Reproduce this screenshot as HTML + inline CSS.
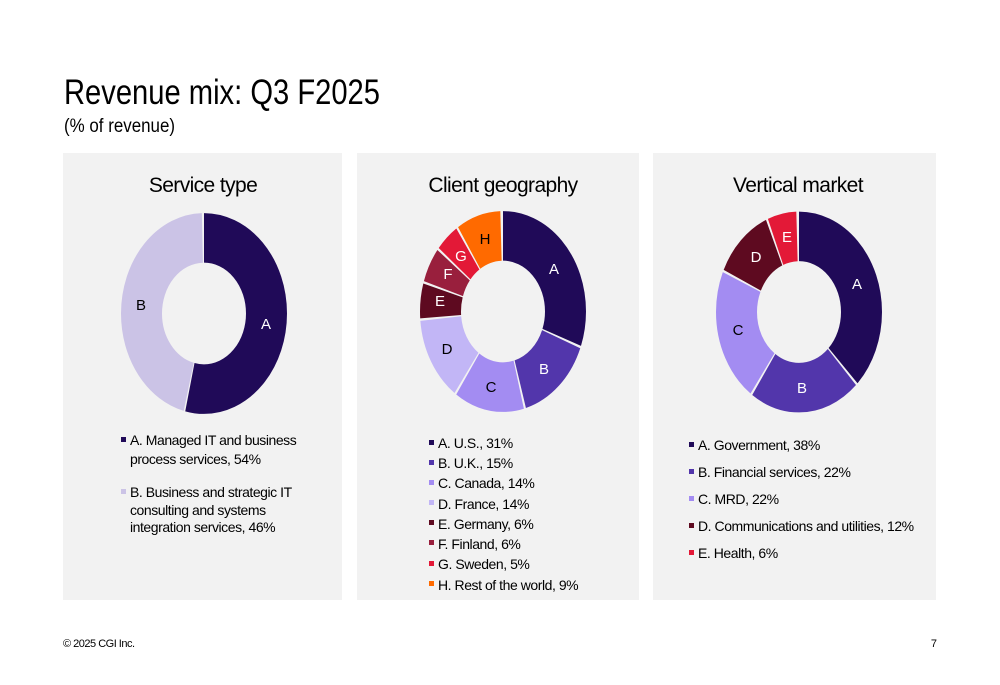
<!DOCTYPE html>
<html><head><meta charset="utf-8"><style>
html,body{margin:0;padding:0;background:#fff}
svg{display:block}
text{font-family:"Liberation Sans",Arial,sans-serif;fill:#000}
.l{font-size:14px;letter-spacing:-0.45px}
.pt{font-size:21px;text-anchor:middle;letter-spacing:-0.6px}
.w{fill:#fff}
</style></head><body>
<svg width="1000" height="685" viewBox="0 0 1000 685">
<rect width="1000" height="685" fill="#fff"/>
<text x="64" y="104" font-size="35" textLength="316" lengthAdjust="spacingAndGlyphs">Revenue mix: Q3 F2025</text>
<text x="64" y="132" font-size="19" textLength="111" lengthAdjust="spacingAndGlyphs">(% of revenue)</text>

<rect x="63" y="153" width="279" height="447" fill="#f2f2f2"/>
<rect x="357" y="153" width="282" height="447" fill="#f2f2f2"/>
<rect x="653" y="153" width="283" height="447" fill="#f2f2f2"/>

<text class="pt" x="203" y="192">Service type</text>
<text class="pt" x="503" y="192">Client geography</text>
<text class="pt" x="798" y="192">Vertical market</text>

<g transform="translate(204,313.5) scale(1,1.21) rotate(-90)" fill="none" stroke-width="41">
<circle r="62.5" pathLength="100" stroke="#200A58" stroke-dasharray="53.7 100" stroke-dashoffset="0"/>
<circle r="62.5" pathLength="100" stroke="#CBC3E6" stroke-dasharray="45.7 100" stroke-dashoffset="-54"/>
</g>
<text x="266" y="329" font-size="15" text-anchor="middle" class="w">A</text>
<text x="141" y="310" font-size="15" text-anchor="middle">B</text>

<g transform="translate(503,311.5) scale(1,1.21) rotate(-90)" fill="none" stroke-width="41">
<circle r="62.5" pathLength="100" stroke="#200A58" stroke-dasharray="30.6 100" stroke-dashoffset="0"/>
<circle r="62.5" pathLength="100" stroke="#5236AB" stroke-dasharray="14.6 100" stroke-dashoffset="-31"/>
<circle r="62.5" pathLength="100" stroke="#A38CF2" stroke-dasharray="13.6 100" stroke-dashoffset="-46"/>
<circle r="62.5" pathLength="100" stroke="#C2B6F6" stroke-dasharray="13.6 100" stroke-dashoffset="-60"/>
<circle r="62.5" pathLength="100" stroke="#5E0A20" stroke-dasharray="5.6 100" stroke-dashoffset="-74"/>
<circle r="62.5" pathLength="100" stroke="#991F3D" stroke-dasharray="5.6 100" stroke-dashoffset="-80"/>
<circle r="62.5" pathLength="100" stroke="#E31937" stroke-dasharray="4.6 100" stroke-dashoffset="-86"/>
<circle r="62.5" pathLength="100" stroke="#FF6A00" stroke-dasharray="8.6 100" stroke-dashoffset="-91"/>
</g>
<g font-size="15" text-anchor="middle">
<text x="554" y="274" class="w">A</text>
<text x="544" y="374" class="w">B</text>
<text x="491" y="392">C</text>
<text x="447" y="354">D</text>
<text x="440" y="306" class="w">E</text>
<text x="448" y="279" class="w">F</text>
<text x="461" y="261" class="w">G</text>
<text x="485" y="244">H</text>
</g>

<g transform="translate(799,312) scale(1,1.21) rotate(-90)" fill="none" stroke-width="41">
<circle r="62.5" pathLength="100" stroke="#200A58" stroke-dasharray="37.6 100" stroke-dashoffset="0"/>
<circle r="62.5" pathLength="100" stroke="#5236AB" stroke-dasharray="21.6 100" stroke-dashoffset="-38"/>
<circle r="62.5" pathLength="100" stroke="#A38CF2" stroke-dasharray="21.6 100" stroke-dashoffset="-60"/>
<circle r="62.5" pathLength="100" stroke="#5E0A20" stroke-dasharray="11.6 100" stroke-dashoffset="-82"/>
<circle r="62.5" pathLength="100" stroke="#E31937" stroke-dasharray="5.6 100" stroke-dashoffset="-94"/>
</g>
<g font-size="15" text-anchor="middle">
<text x="857" y="289" class="w">A</text>
<text x="802" y="393" class="w">B</text>
<text x="738" y="335">C</text>
<text x="756" y="262" class="w">D</text>
<text x="787" y="242" class="w">E</text>
</g>

<rect x="121" y="437" width="5" height="5" fill="#200A58"/>
<text class="l" x="130" y="445">A. Managed IT and business</text>
<text class="l" x="130" y="464">process services, 54%</text>
<rect x="121" y="489" width="5" height="5" fill="#CBC3E6"/>
<text class="l" x="130" y="497">B. Business and strategic IT</text>
<text class="l" x="130" y="515">consulting and systems</text>
<text class="l" x="130" y="532">integration services, 46%</text>

<rect x="429" y="440" width="5" height="5" fill="#200A58"/><text class="l" x="438" y="448">A. U.S., 31%</text>
<rect x="429" y="460" width="5" height="5" fill="#5236AB"/><text class="l" x="438" y="468">B. U.K., 15%</text>
<rect x="429" y="480" width="5" height="5" fill="#A38CF2"/><text class="l" x="438" y="488">C. Canada, 14%</text>
<rect x="429" y="500" width="5" height="5" fill="#C2B6F6"/><text class="l" x="438" y="509">D. France, 14%</text>
<rect x="429" y="520" width="5" height="5" fill="#5E0A20"/><text class="l" x="438" y="529">E. Germany, 6%</text>
<rect x="429" y="540" width="5" height="5" fill="#991F3D"/><text class="l" x="438" y="549">F. Finland, 6%</text>
<rect x="429" y="561" width="5" height="5" fill="#E31937"/><text class="l" x="438" y="569">G. Sweden, 5%</text>
<rect x="429" y="581" width="5" height="5" fill="#FF6A00"/><text class="l" x="438" y="590">H. Rest of the world, 9%</text>

<rect x="689" y="442" width="5" height="5" fill="#200A58"/><text class="l" x="698" y="450">A. Government, 38%</text>
<rect x="689" y="469" width="5" height="5" fill="#5236AB"/><text class="l" x="698" y="477">B. Financial services, 22%</text>
<rect x="689" y="496" width="5" height="5" fill="#A38CF2"/><text class="l" x="698" y="504">C. MRD, 22%</text>
<rect x="689" y="523" width="5" height="5" fill="#5E0A20"/><text class="l" x="698" y="531">D. Communications and utilities, 12%</text>
<rect x="689" y="550" width="5" height="5" fill="#E31937"/><text class="l" x="698" y="558">E. Health, 6%</text>

<text x="63" y="647" font-size="11" letter-spacing="-0.5">© 2025 CGI Inc.</text>
<text x="937" y="647" font-size="11" text-anchor="end">7</text>
</svg>
</body></html>
